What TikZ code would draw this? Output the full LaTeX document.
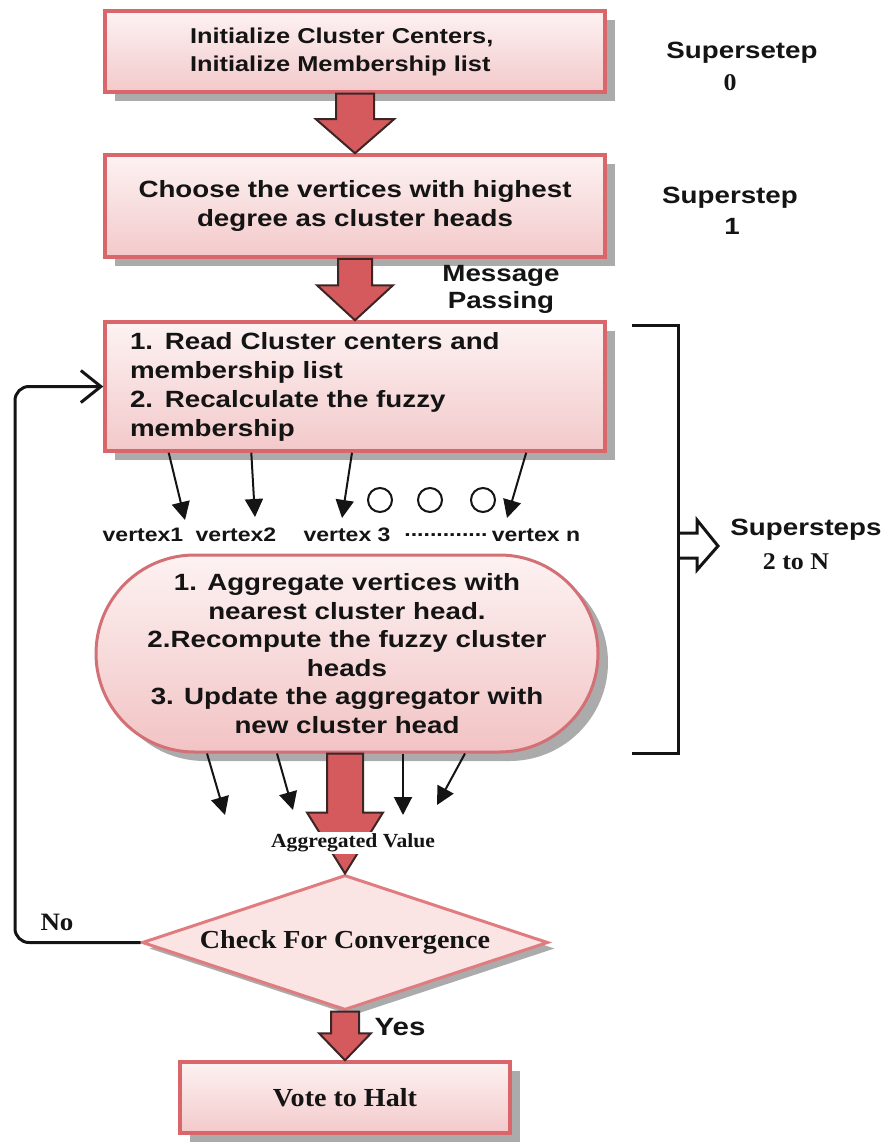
\documentclass[tikz,border=0pt]{standalone}
\usepackage{fontspec}
\setmainfont{Liberation Serif}[FakeStretch=1.08]
\setsansfont{Liberation Sans}[FakeStretch=1.18]
\usetikzlibrary{shapes.geometric,shapes.misc,shadows,arrows.meta,calc}

\definecolor{ink}{HTML}{141414}
\definecolor{boxedge}{HTML}{D9666B}
\definecolor{boxtop}{HTML}{FDF2F2}
\definecolor{boxbot}{HTML}{F3C9CA}
\definecolor{blobedge}{HTML}{D27075}
\definecolor{blobbot}{HTML}{F2C3C4}
\definecolor{diafill}{HTML}{FBE4E4}
\definecolor{diaedge}{HTML}{E07C80}
\definecolor{arrowfill}{HTML}{D45A5E}
\definecolor{arrowedge}{HTML}{3B2525}
\definecolor{shade}{HTML}{ABABAB}

% block arrow from #1 down to tip #2: half shaft width, half head width, head length
\newcommand\blockarrow[5]{%
  \draw[blockarr] let \p1=(#1), \p2=(#2) in
    (\x1-#3pt,\y1) -- (\x1-#3pt,\y2+#5pt) -- (\x1-#4pt,\y2+#5pt) -- (\x1,\y2)
    -- (\x1+#4pt,\y2+#5pt) -- (\x1+#3pt,\y2+#5pt) -- (\x1+#3pt,\y1) -- cycle;}

\begin{document}
\begin{tikzpicture}[x=1pt, y=-1pt,
  hardshadow/.style={general shadow={fill=shade, shadow xshift=10pt, shadow yshift=-9pt}},
  stepbox/.style={rectangle, draw=boxedge, line width=3.5pt, top color=boxtop,
    bottom color=boxbot, text=ink, hardshadow, inner sep=0pt, align=center,
    font=\sffamily\bfseries\fontsize{23.5}{29}\selectfont},
  blobbox/.style={rounded rectangle, draw=blobedge, line width=3pt, top color=boxtop,
    bottom color=blobbot, text=ink, hardshadow, inner sep=0pt, align=center,
    font=\sffamily\bfseries\fontsize{23.5}{28.6}\selectfont},
  decision/.style={diamond, aspect=3, draw=diaedge, line width=3pt, fill=diafill,
    text=ink, general shadow={fill=shade, shadow xshift=7pt, shadow yshift=-6pt},
    inner sep=0pt, font=\rmfamily\bfseries\fontsize{26}{30}\selectfont},
  sanslbl/.style={text=ink, inner sep=1pt, align=center,
    font=\sffamily\bfseries\fontsize{23.5}{27}\selectfont},
  seriflbl/.style={text=ink, inner sep=1pt, font=\rmfamily\bfseries\fontsize{24}{28}\selectfont},
  vlbl/.style={text=ink, inner sep=1pt, font=\sffamily\bfseries\fontsize{19.5}{22}\selectfont},
  blockarr/.style={fill=arrowfill, draw=arrowedge, line width=2pt, line join=miter},
  smallarr/.style={draw=ink, line width=2pt, -{Triangle[length=18pt,width=18pt]}},
  ring/.style={circle, draw=ink, line width=2pt, minimum size=24pt, inner sep=0pt},
  loopline/.style={draw=ink, line width=3pt, rounded corners=14pt,
    -{Straight Barb[length=20pt,width=32pt]}},
  bracket/.style={draw=ink, line width=3pt}
]
\useasboundingbox (0,0) rectangle (883,1142);

% main flow boxes
\node[stepbox, minimum width=500pt, minimum height=81pt, text width=330pt,
  inner xsep=85pt, align=left,
  font=\sffamily\bfseries\fontsize{21.5}{28}\selectfont] (init) at (355,51.5)
  {Initialize Cluster Centers,\\Initialize Membership list};
\node[stepbox, minimum width=500pt, minimum height=102pt] (choose) at (355,206)
  {Choose the vertices with highest\\degree as cluster heads};
\node[stepbox, minimum height=129pt, text width=450pt, inner xsep=25pt, align=left]
  (read) at (355,386.5)
  {1. Read Cluster centers and\\membership list\\2. Recalculate the fuzzy\\membership};
\node[blobbox, minimum width=502pt, minimum height=197pt] (agg) at (347,653.5)
  {1. Aggregate vertices with\\nearest cluster head.\\2.Recompute the fuzzy cluster\\heads\\3. Update the aggregator with\\new cluster head};
\node[decision, minimum width=406pt, minimum height=135pt] (check) at (345,942.5)
  {Check For Convergence};
\node[stepbox, minimum width=330pt, minimum height=71pt,
  font=\rmfamily\bfseries\fontsize{26}{30}\selectfont] (halt) at (345,1097.5)
  {Vote to Halt};

% block arrows between the stages
\blockarrow{init.south}{choose.north}{19}{39}{34}
\blockarrow{choose.south}{read.north}{17}{38}{35}
\coordinate (aggout) at (check.north |- agg.south);
\blockarrow{aggout}{check.north}{18}{38}{61}
\blockarrow{check.south}{halt.north}{14}{26}{27}
\node[seriflbl, fill=white, inner sep=2pt,
  font=\rmfamily\bfseries\fontsize{20}{24}\selectfont] (aggval) at (353,843)
  {Aggregated Value};

% superstep labels
\node[sanslbl] (ss0) at (742,53) {Supersetep};
\node[seriflbl] (ss0n) at (730,83) {0};
\node[sanslbl] (ss1) at (730,198) {Superstep};
\node[sanslbl] (ss1n) at (732,226) {1};
\node[sanslbl] (msg) at (501,289) {Message\\Passing};

% vertices receiving messages
\node[vlbl] (v1) at (143,535) {vertex1};
\node[vlbl] (v2) at (236,535) {vertex2};
\node[vlbl] (v3) at (347,535) {vertex 3};
\node[vlbl] (vdots) at (446,535) {.............};
\node[vlbl] (vn) at (536,535) {vertex n};
\node[ring] (o1) at (380,500) {};
\node[ring] (o2) at (430,500) {};
\node[ring] (o3) at (483,500) {};

\coordinate (t1) at (185,520);
\coordinate (t2) at (255,517);
\coordinate (t3) at (342,518);
\coordinate (t4) at (507,518);
\draw[smallarr] ($(read.south west)!0.13!(read.south east)$) -- (t1);
\draw[smallarr] ($(read.south west)!0.294!(read.south east)$) -- (t2);
\draw[smallarr] ($(read.south west)!0.494!(read.south east)$) -- (t3);
\draw[smallarr] ($(read.south west)!0.84!(read.south east)$) -- (t4);

% vertex values flowing into the aggregator
\coordinate (u1) at (225,815);
\coordinate (u2) at (293,810);
\coordinate (u3) at (403,815);
\coordinate (u4) at (437,805);
\draw[smallarr] ($(agg.south)+(-140,0)$) -- (u1);
\draw[smallarr] ($(agg.south)+(-70,0)$) -- (u2);
\draw[smallarr] ($(agg.south)+(56,0)$) -- (u3);
\draw[smallarr] ($(agg.south)+(118,0)$) -- (u4);

% loop back when not converged
\coordinate (loopx) at (15,660);
\draw[loopline] (check.west) -| (loopx) |- (read.west);
\node[seriflbl, font=\rmfamily\bfseries\fontsize{25}{28}\selectfont] (no) at (57,922) {No};
\node[sanslbl, font=\sffamily\bfseries\fontsize{25}{28}\selectfont] (yes) at (400,1027) {Yes};

% bracket over supersteps 2..N
\coordinate (brt) at (632,325);
\coordinate (brb) at (632,753);
\draw[bracket] (brt) -- ++(46,0) |- (brb);
\coordinate (hol) at (678,545);
\draw[bracket] (hol) ++(0,-12) -- ++(19,0) -- ++(0,-13) -- ++(21,26) -- ++(-21,24)
  -- ++(0,-12) -- ++(-19,0);
\node[sanslbl] (ssn) at (806,530) {Supersteps};
\node[seriflbl] (ssnn) at (796,562) {2 to N};
\end{tikzpicture}
\end{document}
